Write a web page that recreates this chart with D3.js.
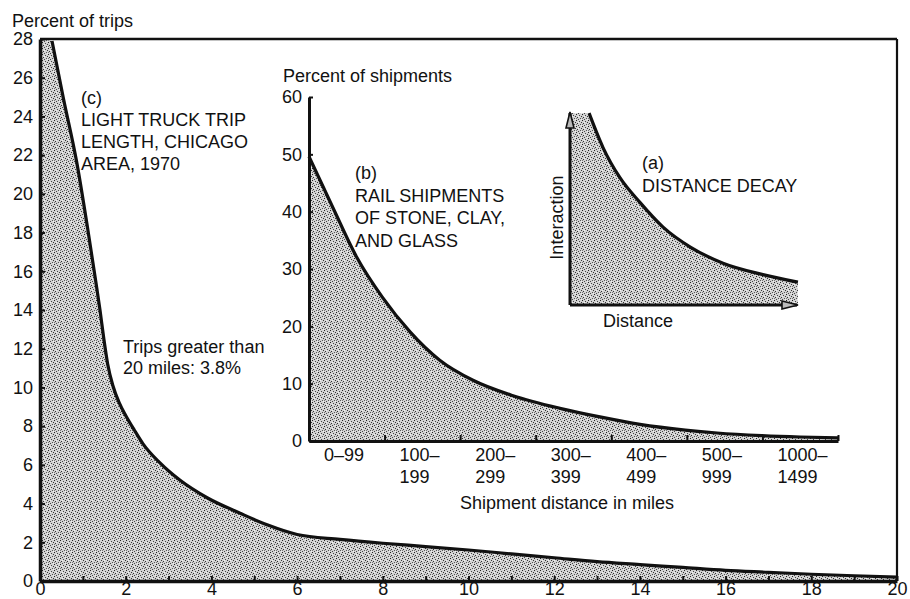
<!DOCTYPE html>
<html><head><meta charset="utf-8">
<script src="https://cdn.jsdelivr.net/npm/d3@7"></script>
<style>
body{margin:0;background:#fff}
text{font-family:"Liberation Sans",Arial,Helvetica,sans-serif;fill:#111;font-size:18px}
</style>
</head><body>
<svg id="c" width="910" height="599"></svg>
<script>
// ---------- (c) Light truck trip length ----------
const tripMiles = [0.28, 0.54, 0.86, 1.12, 1.30, 1.40, 1.49, 1.58, 1.70, 1.85, 2.0, 2.2, 2.4, 2.8, 3.27, 3.9, 4.67, 5.3, 6.0, 7, 8, 9, 10, 11, 12, 13, 14, 15, 16, 17, 18, 19, 20];
const tripPct   = [27.9, 25.0, 21.6, 18.1, 15.5, 14.0, 12.5, 11.2, 10.1, 9.2, 8.55, 7.8, 7.1, 6.1, 5.2, 4.3, 3.5, 2.9, 2.4, 2.15, 1.95, 1.78, 1.6, 1.4, 1.2, 1.0, 0.85, 0.7, 0.55, 0.45, 0.35, 0.27, 0.2];
const tripXTicks = d3.range(0, 21, 1);
const tripXLabels = [0, 2, 4, 6, 8, 10, 12, 14, 16, 18, 20];
const tripYTicks = d3.range(0, 29, 2);

// ---------- (b) Rail shipments ----------
const shipCategories = ["0–99", "100–|199", "200–|299", "300–|399", "400–|499", "500–|999", "1000–|1499"];
const shipPos = [0, 0.32, 0.63, 0.97, 1.34, 1.73, 2.17, 2.70, 3.32, 3.85, 4.38, 4.98, 5.40, 5.99, 6.5, 7.0];
const shipPct = [49.6, 40.6, 32.1, 25.1, 19.0, 14.1, 10.6, 7.9, 5.7, 4.2, 2.9, 1.9, 1.4, 0.95, 0.7, 0.55];
const shipYTicks = [0, 10, 20, 30, 40, 50, 60];

// ---------- (a) Distance decay (schematic) ----------
const decayDist = [0.84, 1.45, 2.2, 3.08, 4.1, 5.3, 6.74, 8.5, 10.04];
const decayInter = [10.1, 8.3, 6.7, 5.4, 4.1, 3.05, 2.2, 1.6, 1.2];

const svg = d3.select("#c");
const defs = svg.append("defs");
const pat = defs.append("pattern").attr("id", "stip").attr("width", 6).attr("height", 6)
  .attr("patternUnits", "userSpaceOnUse");
pat.append("rect").attr("width", 6).attr("height", 6).attr("fill", "#d2d2d2");
[[0,0,"#222"],[3,1,"#444"],[5,2,"#333"],[1,3,"#333"],[4,4,"#555"],[2,5,"#444"],[2,2,"#f4f4f4"],[5,5,"#f0f0f0"],[0,4,"#777"]]
  .forEach(([px,py,c]) => pat.append("rect").attr("x",px).attr("y",py).attr("width",1).attr("height",1).attr("fill",c));

// arrow marker
const mk = defs.append("marker").attr("id","arr").attr("viewBox","0 0 18 10")
  .attr("refX",16).attr("refY",5).attr("markerWidth",18).attr("markerHeight",10)
  .attr("markerUnits","userSpaceOnUse").attr("orient","auto");
mk.append("path").attr("d","M1,1 L17,5 L1,9 Z").attr("fill","#bbb").attr("stroke","#111").attr("stroke-width",1.6);

// ===== main chart (c) =====
const x = d3.scaleLinear([0, 20], [40, 897]);
const y = d3.scaleLinear([0, 28], [581, 39]);
const tripData = tripMiles.map((m, i) => [m, tripPct[i]]);
const lineC = d3.line().x(d => x(d[0])).y(d => y(d[1])).curve(d3.curveMonotoneX);
const lc = lineC(tripData);
svg.append("path")
  .attr("d", `M${x(0)},${y(28)}L` + lc.slice(1) + `L${x(20)},${y(0)}L${x(0)},${y(0)}Z`)
  .attr("fill", "url(#stip)");
svg.append("path").attr("d", lc).attr("fill", "none").attr("stroke", "#111").attr("stroke-width", 3.2);

// frame top and right
svg.append("line").attr("x1", x(0)).attr("x2", x(20)).attr("y1", y(28)).attr("y2", y(28))
  .attr("stroke", "#111").attr("stroke-width", 2.6);
svg.append("line").attr("x1", x(20)).attr("x2", x(20)).attr("y1", y(28)).attr("y2", y(0))
  .attr("stroke", "#111").attr("stroke-width", 2.2);

const yAx = svg.append("g").attr("transform", `translate(${x(0)},0)`)
  .call(d3.axisLeft(y).tickValues(tripYTicks).tickSize(-5).tickSizeOuter(0).tickPadding(7));
const xAx = svg.append("g").attr("transform", `translate(0,${y(0)})`)
  .call(d3.axisBottom(x).tickValues(tripXTicks).tickSize(-5).tickSizeOuter(0).tickPadding(1)
    .tickFormat(d => tripXLabels.includes(d) ? d : ""));
[yAx, xAx].forEach(g => {
  g.select(".domain").attr("stroke", "#111").attr("stroke-width", 3.5);
  g.selectAll(".tick line").attr("stroke", "#111").attr("stroke-width", 2);
  g.selectAll("text").attr("font-size", 18).attr("fill", "#111")
    .attr("font-family", '"Liberation Sans",Arial,sans-serif');
});
xAx.selectAll("text").attr("font-size", 17);

svg.append("text").attr("x", 12).attr("y", 27).text("Percent of trips");
const tc = svg.append("text").attr("x", 81);
["(c)", "LIGHT TRUCK TRIP", "LENGTH, CHICAGO", "AREA, 1970"].forEach((t, i) =>
  tc.append("tspan").attr("x", 81).attr("y", 104 + i * 22).text(t));
const tg = svg.append("text");
["Trips greater than", "20 miles: 3.8%"].forEach((t, i) =>
  tg.append("tspan").attr("x", 123).attr("y", 353 + i * 21).text(t));

// ===== inset (b) =====
const xb = d3.scaleLinear([0, 7], [309, 838]);
const band = d3.scaleBand(shipCategories, [309, 838]);
const yb = d3.scaleLinear([0, 60], [441, 97]);
const shipData = shipPos.map((p, i) => [p, shipPct[i]]);
const lineB = d3.line().x(d => xb(d[0])).y(d => yb(d[1])).curve(d3.curveMonotoneX);
const lb = lineB(shipData);
svg.append("path").attr("d", `M${xb(0)},${yb(0)}L` + lb.slice(1) + `L${xb(7)},${yb(0)}Z`)
  .attr("fill", "url(#stip)");
svg.append("path").attr("d", lb).attr("fill", "none").attr("stroke", "#111").attr("stroke-width", 3.2);

const ybAx = svg.append("g").attr("transform", `translate(${xb(0)},0)`)
  .call(d3.axisLeft(yb).tickValues(shipYTicks).tickSize(-4).tickSizeOuter(0).tickPadding(7));
const xbAx = svg.append("g").attr("transform", `translate(0,${yb(0)})`)
  .call(d3.axisBottom(xb).tickValues(d3.range(1, 8)).tickSize(-6).tickSizeOuter(0).tickFormat(""));
[ybAx, xbAx].forEach(g => {
  g.select(".domain").attr("stroke", "#111").attr("stroke-width", 3);
  g.selectAll(".tick line").attr("stroke", "#111").attr("stroke-width", 2);
  g.selectAll("text").attr("font-size", 18).attr("fill", "#111")
    .attr("font-family", '"Liberation Sans",Arial,sans-serif');
});
shipCategories.forEach(c => {
  const t = svg.append("text");
  c.split("|").forEach((s, i) =>
    t.append("tspan").attr("x", band(c) + 15).attr("y", 461 + i * 22).text(s));
});
svg.append("text").attr("x", 460).attr("y", 509).text("Shipment distance in miles");
svg.append("text").attr("x", 283).attr("y", 82).text("Percent of shipments");
const tb = svg.append("text");
["(b)", "RAIL SHIPMENTS", "OF STONE, CLAY,", "AND GLASS"].forEach((t, i) =>
  tb.append("tspan").attr("x", 355).attr("y", 179 + i * 22.5).text(t));

// ===== inset (a) =====
const xa = d3.scaleLinear([0, 10], [570, 797]);
const ya = d3.scaleLinear([0, 10], [305, 115]);
const decayData = decayDist.map((d, i) => [d, decayInter[i]]);
const lineA = d3.line().x(d => xa(d[0])).y(d => ya(d[1])).curve(d3.curveMonotoneX);
const la = lineA(decayData);
svg.append("path")
  .attr("d", `M${xa(0)},${ya(decayInter[0])}L` + la.slice(1) + `L${xa(decayDist[decayDist.length-1])},${ya(0)}L${xa(0)},${ya(0)}Z`)
  .attr("fill", "url(#stip)");
svg.append("path").attr("d", la).attr("fill", "none").attr("stroke", "#111").attr("stroke-width", 3.2);
svg.append("line").attr("x1", xa(0)).attr("y1", ya(0)).attr("x2", xa(0)).attr("y2", ya(10) - 2)
  .attr("stroke", "#111").attr("stroke-width", 3).attr("marker-end", "url(#arr)");
svg.append("line").attr("x1", xa(0)).attr("y1", ya(0)).attr("x2", xa(10)).attr("y2", ya(0))
  .attr("stroke", "#111").attr("stroke-width", 3).attr("marker-end", "url(#arr)");
svg.append("text").attr("transform", `translate(${xa(0) - 7},${ya(4.6)}) rotate(-90)`)
  .attr("text-anchor", "middle").text("Interaction");
svg.append("text").attr("x", 638).attr("y", 327).attr("text-anchor", "middle").text("Distance");
const ta = svg.append("text");
["(a)", "DISTANCE DECAY"].forEach((t, i) =>
  ta.append("tspan").attr("x", 642).attr("y", 169 + i * 23).text(t));
</script>
</body></html>
